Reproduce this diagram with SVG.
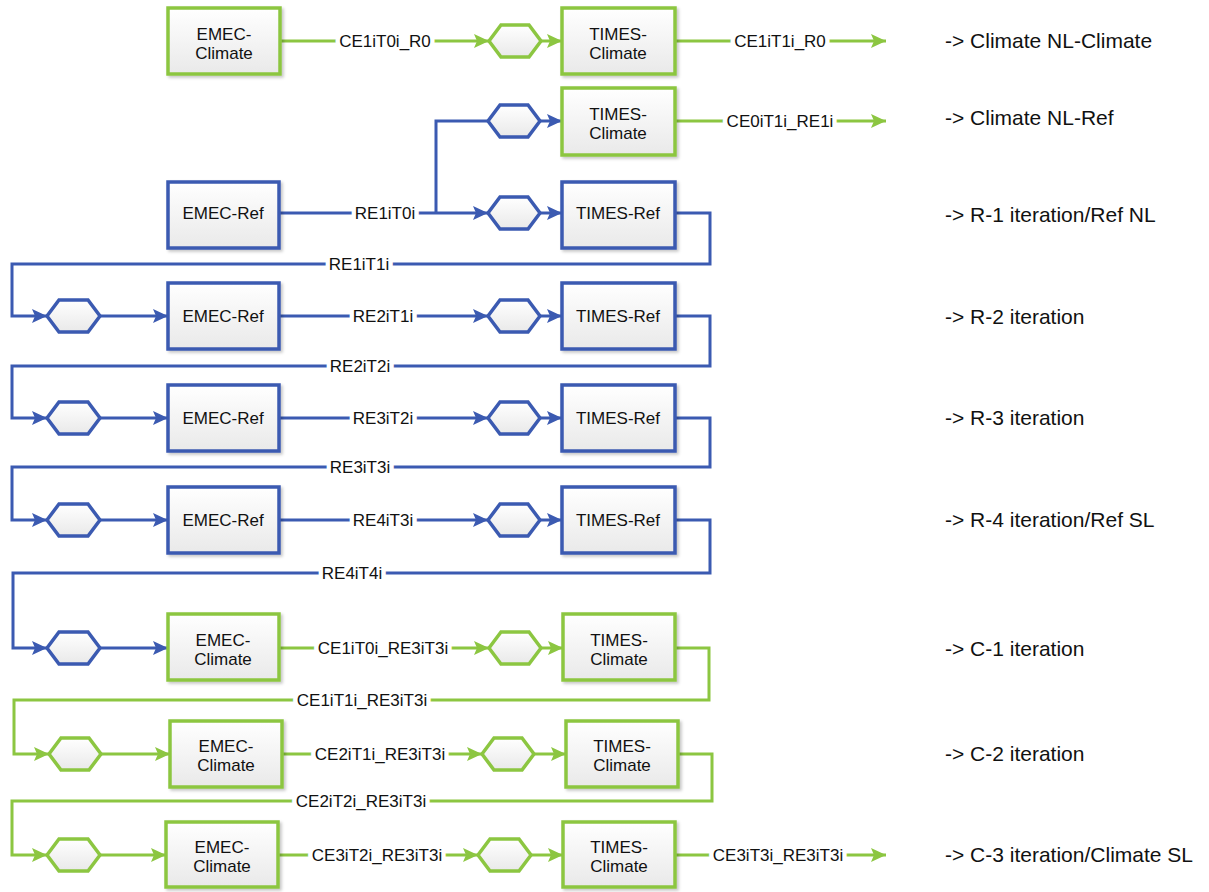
<svg xmlns="http://www.w3.org/2000/svg" width="1209" height="892" viewBox="0 0 1209 892">
<style>
.bg{fill:#ffffff}
.box{fill:url(#gf);stroke-width:3.5;filter:url(#sh)}
.g{stroke:#8CC641}
.b{stroke:#3B5AB1}
.hex{fill:url(#gf);stroke-width:3.5}
.ln{fill:none;stroke-width:3}
.mask{fill:#ffffff}
.t{font-family:"Liberation Sans",Arial,sans-serif;font-size:17px;fill:#111;text-anchor:middle}
.lbl{font-family:"Liberation Sans",Arial,sans-serif;font-size:17px;fill:#111;text-anchor:middle;paint-order:stroke;stroke:#fff;stroke-width:9px;stroke-linejoin:round}
.r{font-family:"Liberation Sans",Arial,sans-serif;font-size:21px;fill:#111}
</style>
<defs>
<linearGradient id="gf" x1="0" y1="0" x2="0" y2="1"><stop offset="0" stop-color="#ffffff"/><stop offset="1" stop-color="#e9e9e9"/></linearGradient>
<filter id="sh" x="-10%" y="-10%" width="130%" height="130%"><feDropShadow dx="2" dy="2" stdDeviation="1.5" flood-color="#000" flood-opacity="0.22"/></filter>
<marker id="ag" markerUnits="userSpaceOnUse" markerWidth="16" markerHeight="14" refX="15" refY="7" orient="auto"><path d="M0,0 L15,7 L0,14 L3,7 z" fill="#8CC641"/></marker>
<marker id="ab" markerUnits="userSpaceOnUse" markerWidth="16" markerHeight="14" refX="15" refY="7" orient="auto"><path d="M0,0 L15,7 L0,14 L3,7 z" fill="#3B5AB1"/></marker>
</defs>
<rect class="bg" x="0" y="0" width="1209" height="892"/>

<g id="connectors">
<!-- row 0 -->
<path class="ln g" d="M280,41 H489" marker-end="url(#ag)"/>
<path class="ln g" d="M541,41 H562" marker-end="url(#ag)"/>
<path class="ln g" d="M675,41 H886" marker-end="url(#ag)"/>
<!-- row 1 -->
<path class="ln b" d="M436,213 V121 H488"/>
<path class="ln b" d="M540,121 H562" marker-end="url(#ab)"/>
<path class="ln g" d="M675,121 H886" marker-end="url(#ag)"/>
<!-- row 2 -->
<path class="ln b" d="M279,213 H488" marker-end="url(#ab)"/>
<path class="ln b" d="M540,213 H562" marker-end="url(#ab)"/>
<path class="ln b" d="M675,213 H710 V264 H12 V316 H47" marker-end="url(#ab)"/>
<!-- row 3 -->
<path class="ln b" d="M100,316 H168" marker-end="url(#ab)"/>
<path class="ln b" d="M279,316 H488" marker-end="url(#ab)"/>
<path class="ln b" d="M540,316 H562" marker-end="url(#ab)"/>
<path class="ln b" d="M675,316 H710 V366 H12 V418 H47" marker-end="url(#ab)"/>
<!-- row 4 -->
<path class="ln b" d="M100,418 H168" marker-end="url(#ab)"/>
<path class="ln b" d="M279,418 H488" marker-end="url(#ab)"/>
<path class="ln b" d="M540,418 H562" marker-end="url(#ab)"/>
<path class="ln b" d="M675,418 H710 V467 H12 V520 H47" marker-end="url(#ab)"/>
<!-- row 5 -->
<path class="ln b" d="M100,520 H168" marker-end="url(#ab)"/>
<path class="ln b" d="M279,520 H488" marker-end="url(#ab)"/>
<path class="ln b" d="M540,520 H562" marker-end="url(#ab)"/>
<path class="ln b" d="M675,520 H710 V573 H13 V648 H47" marker-end="url(#ab)"/>
<!-- row 6 -->
<path class="ln b" d="M100,648 H168" marker-end="url(#ab)"/>
<path class="ln g" d="M279,648 H489" marker-end="url(#ag)"/>
<path class="ln g" d="M541,648 H563" marker-end="url(#ag)"/>
<path class="ln g" d="M675,648 H709 V700 H14 V754 H49" marker-end="url(#ag)"/>
<!-- row 7 -->
<path class="ln g" d="M101,754 H170" marker-end="url(#ag)"/>
<path class="ln g" d="M282,754 H482" marker-end="url(#ag)"/>
<path class="ln g" d="M534,754 H566" marker-end="url(#ag)"/>
<path class="ln g" d="M678,754 H712 V801 H12 V855 H47" marker-end="url(#ag)"/>
<!-- row 8 -->
<path class="ln g" d="M100,855 H166" marker-end="url(#ag)"/>
<path class="ln g" d="M278,855 H478" marker-end="url(#ag)"/>
<path class="ln g" d="M531,855 H563" marker-end="url(#ag)"/>
<path class="ln g" d="M675,855 H886" marker-end="url(#ag)"/>
<!-- label backgrounds -->
<rect class="mask" x="339" y="38" width="92" height="6"/>
<rect class="mask" x="734" y="38" width="92" height="6"/>
<rect class="mask" x="727" y="118" width="106" height="6"/>
<rect class="mask" x="316" y="645" width="134" height="6"/>
<rect class="mask" x="295" y="697" width="134" height="6"/>
<rect class="mask" x="313" y="751" width="134" height="6"/>
<rect class="mask" x="294" y="798" width="134" height="6"/>
<rect class="mask" x="310" y="852" width="134" height="6"/>
<rect class="mask" x="711" y="852" width="134" height="6"/>
<!-- labels -->
<text class="lbl" x="385" y="47">CE1iT0i_R0</text>
<text class="lbl" x="780" y="47">CE1iT1i_R0</text>
<text class="lbl" x="780" y="127">CE0iT1i_RE1i</text>
<text class="lbl" x="385" y="219">RE1iT0i</text>
<text class="lbl" x="359" y="270">RE1iT1i</text>
<text class="lbl" x="383" y="322">RE2iT1i</text>
<text class="lbl" x="360" y="372">RE2iT2i</text>
<text class="lbl" x="383" y="424">RE3iT2i</text>
<text class="lbl" x="360" y="473">RE3iT3i</text>
<text class="lbl" x="383" y="526">RE4iT3i</text>
<text class="lbl" x="352" y="579">RE4iT4i</text>
<text class="lbl" x="383" y="654">CE1iT0i_RE3iT3i</text>
<text class="lbl" x="362" y="706">CE1iT1i_RE3iT3i</text>
<text class="lbl" x="380" y="760">CE2iT1i_RE3iT3i</text>
<text class="lbl" x="361" y="807">CE2iT2i_RE3iT3i</text>
<text class="lbl" x="377" y="861">CE3iT2i_RE3iT3i</text>
<text class="lbl" x="778" y="861">CE3iT3i_RE3iT3i</text>
</g>

<!-- row 0 -->
<g id="emec-climate-0"><rect class="box g" x="168" y="8" width="112" height="66"/><text class="t" x="224" y="40">EMEC-</text><text class="t" x="224" y="59">Climate</text></g>
<g id="hex-0"><polygon class="hex g" points="489,41 501,25 529,25 541,41 529,57 501,57"/></g>
<g id="times-climate-0"><rect class="box g" x="562" y="8" width="113" height="66"/><text class="t" x="618" y="40">TIMES-</text><text class="t" x="618" y="59">Climate</text></g>
<!-- row 1 -->
<g id="hex-1"><polygon class="hex b" points="488,121 500,105 528,105 540,121 528,137 500,137"/></g>
<g id="times-climate-1"><rect class="box g" x="562" y="88" width="113" height="67"/><text class="t" x="618" y="120">TIMES-</text><text class="t" x="618" y="139">Climate</text></g>
<!-- row 2 -->
<g id="emec-ref-2"><rect class="box b" x="168" y="182" width="111" height="66"/><text class="t" x="223" y="219">EMEC-Ref</text></g>
<g id="hex-2"><polygon class="hex b" points="488,213 500,197 528,197 540,213 528,229 500,229"/></g>
<g id="times-ref-2"><rect class="box b" x="562" y="182" width="113" height="66"/><text class="t" x="618" y="219">TIMES-Ref</text></g>
<!-- row 3 -->
<g id="hex-3a"><polygon class="hex b" points="47,316 59,300 88,300 100,316 88,332 59,332"/></g>
<g id="emec-ref-3"><rect class="box b" x="168" y="283" width="111" height="66"/><text class="t" x="223" y="322">EMEC-Ref</text></g>
<g id="hex-3b"><polygon class="hex b" points="488,316 500,300 528,300 540,316 528,332 500,332"/></g>
<g id="times-ref-3"><rect class="box b" x="562" y="283" width="113" height="66"/><text class="t" x="618" y="322">TIMES-Ref</text></g>
<!-- row 4 -->
<g id="hex-4a"><polygon class="hex b" points="47,418 59,402 88,402 100,418 88,434 59,434"/></g>
<g id="emec-ref-4"><rect class="box b" x="168" y="385" width="111" height="66"/><text class="t" x="223" y="424">EMEC-Ref</text></g>
<g id="hex-4b"><polygon class="hex b" points="488,418 500,402 528,402 540,418 528,434 500,434"/></g>
<g id="times-ref-4"><rect class="box b" x="562" y="385" width="113" height="66"/><text class="t" x="618" y="424">TIMES-Ref</text></g>
<!-- row 5 -->
<g id="hex-5a"><polygon class="hex b" points="47,520 59,504 88,504 100,520 88,536 59,536"/></g>
<g id="emec-ref-5"><rect class="box b" x="168" y="487" width="111" height="66"/><text class="t" x="223" y="526">EMEC-Ref</text></g>
<g id="hex-5b"><polygon class="hex b" points="488,520 500,504 528,504 540,520 528,536 500,536"/></g>
<g id="times-ref-5"><rect class="box b" x="562" y="487" width="113" height="66"/><text class="t" x="618" y="526">TIMES-Ref</text></g>
<!-- row 6 -->
<g id="hex-6a"><polygon class="hex b" points="47,648 59,632 88,632 100,648 88,664 59,664"/></g>
<g id="emec-climate-6"><rect class="box g" x="168" y="614" width="111" height="66"/><text class="t" x="223" y="646">EMEC-</text><text class="t" x="223" y="665">Climate</text></g>
<g id="hex-6b"><polygon class="hex g" points="489,648 501,632 529,632 541,648 529,664 501,664"/></g>
<g id="times-climate-6"><rect class="box g" x="563" y="614" width="112" height="66"/><text class="t" x="619" y="646">TIMES-</text><text class="t" x="619" y="665">Climate</text></g>
<!-- row 7 -->
<g id="hex-7a"><polygon class="hex g" points="49,754 61,738 89,738 101,754 89,770 61,770"/></g>
<g id="emec-climate-7"><rect class="box g" x="170" y="721" width="112" height="66"/><text class="t" x="226" y="752">EMEC-</text><text class="t" x="226" y="771">Climate</text></g>
<g id="hex-7b"><polygon class="hex g" points="482,754 494,738 522,738 534,754 522,770 494,770"/></g>
<g id="times-climate-7"><rect class="box g" x="566" y="721" width="112" height="66"/><text class="t" x="622" y="752">TIMES-</text><text class="t" x="622" y="771">Climate</text></g>
<!-- row 8 -->
<g id="hex-8a"><polygon class="hex g" points="47,855 59,839 88,839 100,855 88,871 59,871"/></g>
<g id="emec-climate-8"><rect class="box g" x="166" y="822" width="112" height="65"/><text class="t" x="222" y="853">EMEC-</text><text class="t" x="222" y="872">Climate</text></g>
<g id="hex-8b"><polygon class="hex g" points="478,855 490,839 519,839 531,855 519,871 490,871"/></g>
<g id="times-climate-8"><rect class="box g" x="563" y="822" width="112" height="65"/><text class="t" x="619" y="853">TIMES-</text><text class="t" x="619" y="872">Climate</text></g>

<g id="row-notes">
<text class="r" x="945" y="48">-&gt; Climate NL-Climate</text>
<text class="r" x="945" y="125">-&gt; Climate NL-Ref</text>
<text class="r" x="945" y="222">-&gt; R-1 iteration/Ref NL</text>
<text class="r" x="945" y="324">-&gt; R-2 iteration</text>
<text class="r" x="945" y="425">-&gt; R-3 iteration</text>
<text class="r" x="945" y="527">-&gt; R-4 iteration/Ref SL</text>
<text class="r" x="945" y="656">-&gt; C-1 iteration</text>
<text class="r" x="945" y="761">-&gt; C-2 iteration</text>
<text class="r" x="945" y="862">-&gt; C-3 iteration/Climate SL</text>
</g>
</svg>
